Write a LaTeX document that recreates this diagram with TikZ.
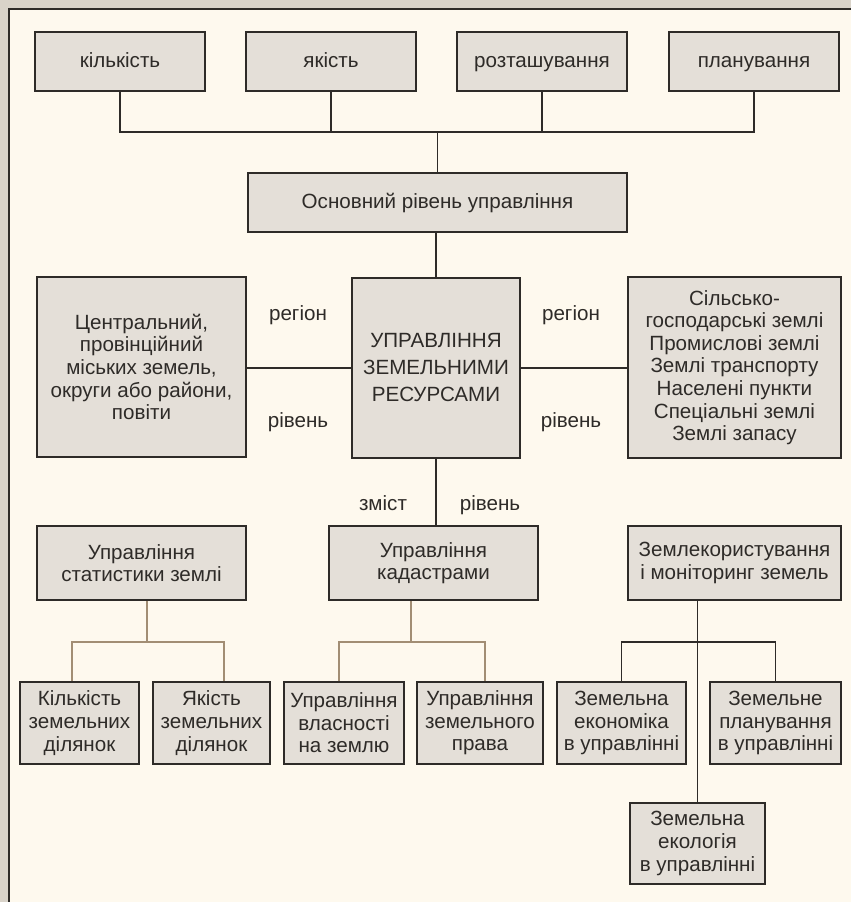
\documentclass[tikz,border=0pt]{standalone}
\usepackage{fontspec}
\setmainfont{Liberation Sans}
\definecolor{paper}{HTML}{FEF9EE}
\definecolor{band}{HTML}{D9D3C9}
\definecolor{boxfill}{HTML}{E4DFD8}
\definecolor{ink}{HTML}{2E2B28}
\definecolor{tan}{HTML}{A28E74}
\tikzset{
  box/.style={draw=ink, line width=0.9pt, fill=boxfill, text=ink, align=center,
    inner sep=0pt, font=\fontsize{10.3}{11.3}\selectfont},
  oneline/.style={text height=1.55ex, text depth=0.45ex},
  lbl/.style={text=ink, anchor=base, font=\fontsize{10.3}{11.3}\selectfont},
  conn/.style={draw=ink, line width=0.75pt},
  tconn/.style={draw=tan, line width=0.75pt},
}
\begin{document}
\begin{tikzpicture}[x=0.5pt, y=-0.5pt]
            \useasboundingbox (0, 0) rectangle (851, 902);
            \fill[band] (0, 0) rectangle (851, 902);
            \fill[paper] (9, 9) rectangle (851, 902);
            \draw[ink, line width=0.8pt] (9, 902) -- (9, 9) -- (851, 9);
            % top row
            \node[box, oneline, minimum width=85pt, minimum height=29.5pt] (kil) at (120, 61.5) {кількість};
            \node[box, oneline, minimum width=85pt, minimum height=29.5pt] (yak) at (331, 61.5) {якість};
            \node[box, oneline, minimum width=85pt, minimum height=29.5pt] (roz) at (542, 61.5) {розташування};
            \node[box, oneline, minimum width=85pt, minimum height=29.5pt] (plan) at (754, 61.5) {планування};
            \node[box, oneline, minimum width=189.5pt, minimum height=29.5pt] (osn) at (437.5, 202.5) {Основний рівень управління};
            % middle row
            \node[box, minimum width=84pt, minimum height=90pt] (upr) at (436, 368)
                {УПРАВЛІННЯ\\[2.2pt] ЗЕМЕЛЬНИМИ\\[2.2pt] РЕСУРСАМИ};
            \node[box, minimum width=104.5pt, minimum height=90pt] (terr) at (141.5, 367)
                {Центральний,\\ провінційний\\ міських земель,\\ округи або райони,\\ повіти};
            \node[box, minimum width=106.5pt, minimum height=90.5pt] (land) at (734.5, 367.5)
                {Сільсько-\\ господарські землі\\ Промислові землі\\ Землі транспорту\\ Населені пункти\\ Спеціальні землі\\ Землі запасу};
            \node[lbl] (reg1) at (298, 320) {регіон};
            \node[lbl] (riv1) at (298, 427) {рівень};
            \node[lbl] (reg2) at (571, 320) {регіон};
            \node[lbl] (riv2) at (571, 427) {рівень};
            \node[lbl] (zmi) at (383, 510) {зміст};
            \node[lbl] (riv3) at (490, 510) {рівень};
            % lower row
            \node[box, minimum width=104.5pt, minimum height=37pt] (stat) at (141.5, 563) {Управління\\ статистики землі};
            \node[box, minimum width=104.5pt, minimum height=37pt] (kad) at (433.5, 563) {Управління\\ кадастрами};
            \node[box, minimum width=106.5pt, minimum height=37pt] (zk) at (734.5, 563) {Землекористування\\ і моніторинг земель};
            \node[box, minimum width=59.5pt, minimum height=41pt] (kz) at (79.5, 723) {Кількість\\ земельних\\ ділянок};
            \node[box, minimum width=58.5pt, minimum height=41pt] (yz) at (211.5, 723) {Якість\\ земельних\\ ділянок};
            \node[box, minimum width=60pt, minimum height=41pt] (vl) at (344, 723) {Управління\\ власності\\ на землю};
            \node[box, minimum width=63pt, minimum height=41pt] (pr) at (480, 723) {Управління\\ земельного\\ права};
            \node[box, minimum width=64.5pt, minimum height=41pt] (ek) at (621.5, 723) {Земельна\\ економіка\\ в управлінні};
            \node[box, minimum width=65.5pt, minimum height=41pt] (pl) at (775.5, 723) {Земельне\\ планування\\ в управлінні};
            \node[box, minimum width=67.5pt, minimum height=40.5pt] (eco) at (697.5, 843.5) {Земельна\\ екологія\\ в управлінні};
            % connectors
            \coordinate (top) at (437.5, 132);
            \draw[conn] (kil.south) |- (top) -| (plan.south);
            \draw[conn] (yak.south) -- (yak.south |- top);
            \draw[conn] (roz.south) -- (roz.south |- top);
            \draw[conn] (osn.north) -- (top);
            \draw[conn] (upr.north) -- (upr.north |- osn.south);
            \draw[conn] (upr.west) -- (upr.west -| terr.east);
            \draw[conn] (upr.east) -- (upr.east -| land.west);
            \draw[conn] (upr.south) -- (upr.south |- kad.north);
            \draw[tconn] ([xshift=2.75pt]stat.south) -- ++(0, 41) coordinate (sj);
            \draw[tconn] ([xshift=-3.75pt]kz.north) |- (sj) -| ([xshift=6.25pt]yz.north);
            \draw[tconn] ([xshift=-11.25pt]kad.south) -- ++(0, 41) coordinate (kj);
            \draw[tconn] ([xshift=-2.5pt]vl.north) |- (kj) -| ([xshift=2.5pt]pr.north);
            \draw[conn] (eco.north) -- (eco.north |- zk.south);
            \coordinate (zj) at (eco.north |- sj);
            \draw[conn] (ek.north) |- (zj) -| (pl.north);
\end{tikzpicture}
\end{document}
